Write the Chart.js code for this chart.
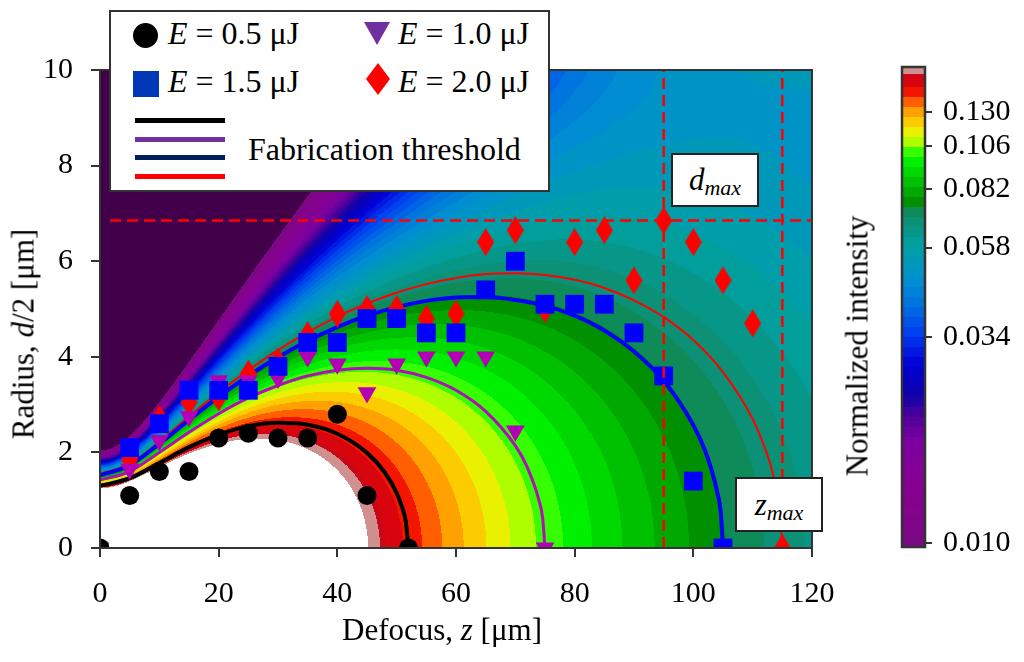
<!DOCTYPE html>
<html>
<head>
<meta charset="utf-8">
<script src="https://cdn.jsdelivr.net/npm/chart.js@4.4.1/dist/chart.umd.min.js"></script>
<style>
  html, body { margin: 0; padding: 0; background: #fff; }
  #wrap { position: relative; width: 1024px; height: 662px; overflow: hidden;
          font-family: "Liberation Serif", "Times New Roman", serif; color: #000; }
  #main { position: absolute; left: 0; top: 0; }
  #cbar { position: absolute; left: 840px; top: 0; }
  .txt { position: absolute; white-space: nowrap; font-size: 31px; line-height: 31px; }
  .leg { font-size: 32px; line-height: 32px; }
  .box { position: absolute; background: #fff; border: 2px solid #333; box-sizing: border-box; }
  .mk { position: absolute; }
  .ln { position: absolute; left: 135px; width: 90px; height: 5px; }
  .ann { position: absolute; background: #fff; border: 2px solid #222; box-sizing: border-box;
         display: flex; align-items: center; justify-content: center; font-size: 31px; }
  .ann sub { font-size: 22px; font-style: italic; vertical-align: -5px; line-height: 0; }
  .rot { position: absolute; white-space: nowrap; font-size: 31px; line-height: 31px;
         transform: translate(-50%, -50%) rotate(-90deg); }
</style>
</head>
<body>
<div id="wrap">
  <canvas id="main" width="1024" height="662"></canvas>
  <canvas id="cbar" width="184" height="662"></canvas>

  <!-- legend -->
  <div class="box" style="left:109px;top:10px;width:441px;height:182px;"></div>
  <div class="mk" style="left:133px;top:23px;width:25px;height:25px;border-radius:50%;background:#000;"></div>
  <div class="txt leg" style="left:168px;top:17px;"><i>E</i> = 0.5 μJ</div>
  <div class="mk" style="left:364px;top:22px;width:26px;height:23px;background:#7030a0;clip-path:polygon(0 0,100% 0,50% 100%);"></div>
  <div class="txt leg" style="left:398px;top:17px;"><i>E</i> = 1.0 μJ</div>
  <div class="mk" style="left:133px;top:71px;width:26px;height:26px;background:#0038b8;"></div>
  <div class="txt leg" style="left:168px;top:65px;"><i>E</i> = 1.5 μJ</div>
  <div class="mk" style="left:366px;top:63px;width:24px;height:32px;background:#ff0000;clip-path:polygon(50% 0,100% 50%,50% 100%,0 50%);"></div>
  <div class="txt leg" style="left:398px;top:65px;"><i>E</i> = 2.0 μJ</div>
  <div class="ln" style="top:118px;background:#000;"></div>
  <div class="ln" style="top:137px;background:#7030a0;"></div>
  <div class="ln" style="top:155px;background:#002060;"></div>
  <div class="ln" style="top:174px;background:#ff0000;"></div>
  <div class="txt leg" style="left:248px;top:133px;">Fabrication threshold</div>

  <!-- annotations -->
  <div class="ann" style="left:671px;top:153px;width:88px;height:54px;"><span><i>d</i><sub>max</sub></span></div>
  <div class="ann" style="left:735px;top:477px;width:88px;height:55px;"><span><i>z</i><sub>max</sub></span></div>

  <!-- axis titles -->
  <div class="txt" style="left:442px;top:614px;transform:translateX(-50%);">Defocus, <i>z</i> [μm]</div>
  <div class="rot" style="left:23px;top:334px;">Radius, <i>d</i>/2 [μm]</div>
  <div class="rot" style="left:857px;top:346px;">Normalized intensity</div>
</div>

<script>
// measured radii d/2 [um] vs defocus z [um]
const zE05 = [0, 5, 10, 15, 20, 25, 30, 35, 40, 45, 52];
const rE05 = [0, 1.1, 1.6, 1.6, 2.3, 2.4, 2.3, 2.3, 2.8, 1.1, 0];
const zE10 = [0, 5, 10, 15, 20, 25, 30, 35, 40, 45, 50, 55, 60, 65, 70, 75];
const rE10 = [0, 1.65, 2.25, 2.75, 3.5, 3.5, 3.55, 4.0, 3.85, 3.25, 3.85, 4.0, 4.0, 4.0, 2.45, 0];
const zE15 = [5, 10, 15, 20, 25, 30, 35, 40, 45, 50, 55, 60, 65, 70, 75, 80, 85, 90, 95, 100, 105];
const rE15 = [2.1, 2.6, 3.3, 3.3, 3.3, 3.8, 4.3, 4.3, 4.8, 4.8, 4.5, 4.5, 5.4, 6.0, 5.1, 5.1, 5.1, 4.5, 3.6, 1.4, 0];
const zE20 = [5, 10, 15, 20, 25, 30, 35, 40, 45, 50, 55, 60, 65, 70, 75, 80, 85, 90, 95, 100, 105, 110, 115];
const rE20 = [1.85, 2.7, 3.05, 3.15, 3.65, 3.9, 4.45, 4.9, 5.0, 5.0, 4.8, 4.9, 6.4, 6.65, 5.0, 6.4, 6.65, 5.6, 6.85, 6.4, 5.6, 4.7, 0];

// fabrication threshold curves
const thr05Z = [0, 5, 10, 15, 20, 25, 30, 35, 40, 45, 48, 50, 51, 51.5, 52];
const thr05R = [1.30, 1.46, 1.78, 2.11, 2.37, 2.55, 2.62, 2.58, 2.39, 1.99, 1.58, 1.15, 0.82, 0.58, 0];
const thr10Z = [0, 5, 10, 15, 20, 25, 30, 35, 40, 45, 50, 55, 60, 65, 70, 72, 74, 74.6, 75];
const thr10R = [1.42, 1.60, 2.00, 2.42, 2.81, 3.14, 3.40, 3.60, 3.72, 3.76, 3.72, 3.57, 3.30, 2.86, 2.14, 1.69, 0.99, 0.63, 0];
const thr15Z = [0, 5, 10, 15, 20, 25, 30, 35, 40, 45, 50, 55, 60, 65, 70, 75, 80, 85, 90, 95, 100, 102, 103, 104, 104.6, 105];
const thr15R = [1.52, 1.73, 2.18, 2.68, 3.16, 3.60, 3.99, 4.33, 4.62, 4.86, 5.04, 5.17, 5.24, 5.25, 5.19, 5.07, 4.86, 4.55, 4.11, 3.50, 2.57, 2.03, 1.66, 1.18, 0.77, 0];
const thr20Z = [0, 5, 10, 15, 20, 25, 30, 35, 40, 45, 50, 55, 60, 65, 70, 75, 80, 85, 90, 95, 100, 105, 110, 112, 113, 114, 114.6, 115];
const thr20R = [1.55, 1.76, 2.22, 2.75, 3.25, 3.72, 4.14, 4.51, 4.84, 5.11, 5.34, 5.52, 5.65, 5.73, 5.75, 5.71, 5.61, 5.44, 5.18, 4.83, 4.35, 3.68, 2.70, 2.11, 1.74, 1.24, 0.80, 0];

// d_max / z_max guide lines
const dMax = 6.85;
const dLineStart = 1.7;
const zMaxMarks = [95, 115];

// ticks
const zTicks = [0, 20, 40, 60, 80, 100, 120];
const rTicks = [0, 2, 4, 6, 8, 10];
const cbTicks = [0.010, 0.034, 0.058, 0.082, 0.106, 0.130];

// beam intensity background (gaussian beam)
const beamWaist = 0.953;
const rayleigh = 8.2;
const peakLevel = 0.952;
const farBoost = 0.35, farRadius = 10, farZ0 = 40, farZ1 = 80;   // flatter far-field wings
const cbMin = 0.00975, cbMax = 0.170, pinkLevel = 0.163;

// colour scale of the colour bar
const cmapLevels = [0.0100, 0.0140, 0.0185, 0.0215, 0.0240, 0.0290, 0.0350, 0.0410, 0.0480, 0.0590, 0.0710, 0.0760, 0.0880, 0.1000, 0.1080, 0.1160, 0.1240, 0.1330, 0.1400, 0.1490, 0.1600];
const cmapColors = ['#7a0882', '#860090', '#7a00a0', '#48009a', '#1000a8', '#0000d8', '#0040f0', '#0070e0', '#0090d0', '#00a0a0', '#108a66', '#009000', '#00cc00', '#00ff00', '#a8ff00', '#eef000', '#ffc400', '#ff9000', '#ff4c00', '#f00000', '#c80818'];
const darkColor = '#42004a';
const pinkColor = '#d09090';

function hexRgb(h) {
  return [parseInt(h.slice(1, 3), 16), parseInt(h.slice(3, 5), 16), parseInt(h.slice(5, 7), 16)];
}
const cmapRgb = cmapColors.map(hexRgb);
const cmapLog = cmapLevels.map(Math.log);
const nBands = 48;

function bandColor(v) {
  if (v >= cbMax) return [255, 255, 255];
  if (v >= pinkLevel) return hexRgb(pinkColor);
  if (v < cbMin) return hexRgb(darkColor);
  const span = Math.log(cbMax / cbMin);
  const t = Math.log(v / cbMin) / span;
  const lv = Math.log(cbMin) + (Math.floor(t * nBands) + 0.5) / nBands * span;
  if (lv <= cmapLog[0]) return cmapRgb[0];
  for (let i = 1; i < cmapLog.length; i++) {
    if (lv <= cmapLog[i]) {
      const f = (lv - cmapLog[i - 1]) / (cmapLog[i] - cmapLog[i - 1]);
      const a = cmapRgb[i - 1], b = cmapRgb[i];
      return [a[0] + (b[0] - a[0]) * f, a[1] + (b[1] - a[1]) * f, a[2] + (b[2] - a[2]) * f];
    }
  }
  return cmapRgb[cmapRgb.length - 1];
}

function intensity(z, r) {
  const u = 1 + (z / rayleigh) * (z / rayleigh);
  const s2 = r * r / (beamWaist * beamWaist * u);
  let v = peakLevel / Math.sqrt(u) * Math.exp(-s2);
  let t = Math.min(1, Math.max(0, (z - farZ0) / (farZ1 - farZ0)));
  t = t * t * (3 - 2 * t);
  v *= 1 + farBoost * t * Math.pow(r / farRadius, 6);
  return v;
}

const pts = (xs, ys) => xs.map((x, i) => ({ x: x, y: ys[i] }));

function diamond(w, h, color) {
  const c = document.createElement('canvas');
  c.width = w; c.height = h;
  const g = c.getContext('2d');
  g.fillStyle = color;
  g.beginPath();
  g.moveTo(w / 2, 0); g.lineTo(w, h / 2); g.lineTo(w / 2, h); g.lineTo(0, h / 2);
  g.closePath(); g.fill();
  return c;
}

const heatmap = {
  id: 'heatmap',
  beforeDraw(chart) {
    const { ctx, chartArea: a, scales: { x, y } } = chart;
    const w = Math.round(a.right - a.left), h = Math.round(a.bottom - a.top);
    const off = document.createElement('canvas');
    off.width = w; off.height = h;
    const octx = off.getContext('2d');
    const img = octx.createImageData(w, h);
    for (let j = 0; j < h; j++) {
      const r = y.getValueForPixel(a.top + j + 0.5);
      for (let i = 0; i < w; i++) {
        const z = x.getValueForPixel(a.left + i + 0.5);
        const c = bandColor(intensity(z, r));
        const k = (j * w + i) * 4;
        img.data[k] = c[0]; img.data[k + 1] = c[1]; img.data[k + 2] = c[2]; img.data[k + 3] = 255;
      }
    }
    octx.putImageData(img, 0, 0);
    ctx.drawImage(off, a.left, a.top);
  },
  afterDatasetsDraw(chart) {
    const { ctx, chartArea: a } = chart;
    ctx.save();
    ctx.strokeStyle = '#333';
    ctx.lineWidth = 2;
    ctx.strokeRect(a.left, a.top, a.right - a.left, a.bottom - a.top);
    ctx.restore();
  }
};

const tickFont = { family: 'Liberation Serif', size: 30 };
const thrLine = (zs, rs, color, width) => ({
  data: pts(zs, rs), showLine: true, pointRadius: 0, borderColor: color, borderWidth: width,
  cubicInterpolationMode: 'monotone', clip: 0, order: 5
});
const guide = (data) => ({
  data: data, showLine: true, pointRadius: 0, borderColor: '#ff0000', borderWidth: 2.5,
  borderDash: [11, 6], clip: 0, order: 0
});

new Chart(document.getElementById('main'), {
  type: 'scatter',
  data: {
    datasets: [
      guide([{ x: dLineStart, y: dMax }, { x: 120, y: dMax }]),
      guide([{ x: zMaxMarks[0], y: 0 }, { x: zMaxMarks[0], y: 10 }]),
      guide([{ x: zMaxMarks[1], y: 0 }, { x: zMaxMarks[1], y: 10 }]),
      { label: 'E = 0.5 μJ', data: pts(zE05, rE05), pointStyle: 'circle', pointRadius: 9.5,
        backgroundColor: '#000', borderWidth: 0, clip: 0, order: 1 },
      { label: 'E = 1.5 μJ', data: pts(zE15, rE15), pointStyle: 'rect', pointRadius: 13.3,
        backgroundColor: '#0000ff', borderWidth: 0, clip: 0, order: 2 },
      { label: 'E = 1.0 μJ', data: pts(zE10, rE10), pointStyle: 'triangle', rotation: 180, pointRadius: 10.8,
        backgroundColor: '#b400b4', borderWidth: 0, clip: 0, order: 3 },
      { label: 'E = 2.0 μJ', data: pts(zE20, rE20), pointStyle: diamond(17, 28, '#ff0000'),
        backgroundColor: '#ff0000', borderWidth: 0, clip: 0, order: 4 },
      thrLine(thr05Z, thr05R, '#000000', 4),
      thrLine(thr10Z, thr10R, '#b010b4', 3),
      thrLine(thr15Z, thr15R, '#0000ff', 4),
      thrLine(thr20Z, thr20R, '#ff0000', 2)
    ]
  },
  options: {
    responsive: false,
    animation: false,
    events: [],
    layout: { padding: { left: 0, top: 70, right: 212, bottom: 0 } },
    plugins: { legend: { display: false }, tooltip: { enabled: false } },
    scales: {
      x: {
        type: 'linear', min: 0, max: 120,
        afterBuildTicks: s => { s.ticks = zTicks.map(v => ({ value: v })); },
        afterFit: s => { s.height = 114; },
        ticks: { font: tickFont, color: '#000', padding: 19, maxRotation: 0 },
        grid: { drawOnChartArea: false, tickLength: 9, color: '#333', lineWidth: 2 },
        border: { color: '#333', width: 2 }
      },
      y: {
        type: 'linear', min: 0, max: 10,
        afterBuildTicks: s => { s.ticks = rTicks.map(v => ({ value: v })); },
        afterFit: s => { s.width = 100; },
        ticks: { font: tickFont, color: '#000', padding: 18 },
        grid: { drawOnChartArea: false, tickLength: 9, color: '#333', lineWidth: 2 },
        border: { color: '#333', width: 2 }
      }
    }
  },
  plugins: [heatmap]
});

// colour bar
const colorBar = {
  id: 'colorBar',
  beforeDatasetsDraw(chart) {
    const { ctx, chartArea: a, scales: { y } } = chart;
    for (let py = Math.floor(a.top); py < a.bottom; py++) {
      const c = bandColor(y.getValueForPixel(py + 0.5));
      ctx.fillStyle = 'rgb(' + c.map(Math.round).join(',') + ')';
      ctx.fillRect(a.left, py, a.right - a.left, 1);
    }
    ctx.strokeStyle = '#333';
    ctx.lineWidth = 2.5;
    ctx.strokeRect(a.left, a.top, a.right - a.left, a.bottom - a.top);
  }
};

new Chart(document.getElementById('cbar'), {
  type: 'scatter',
  data: { datasets: [{ data: [] }] },
  options: {
    responsive: false,
    animation: false,
    events: [],
    layout: { padding: { left: 62, top: 67, right: 0, bottom: 115 } },
    plugins: { legend: { display: false }, tooltip: { enabled: false } },
    scales: {
      x: { display: false, min: 0, max: 1 },
      y: {
        type: 'logarithmic', position: 'right', min: cbMin, max: cbMax,
        afterBuildTicks: s => { s.ticks = cbTicks.map(v => ({ value: v })); },
        afterFit: s => { s.width = 99; },
        ticks: { font: tickFont, color: '#000', padding: 11, callback: v => Number(v).toFixed(3) },
        grid: { drawOnChartArea: false, tickLength: 7, color: '#333', lineWidth: 2 },
        border: { display: false }
      }
    }
  },
  plugins: [colorBar]
});
</script>
</body>
</html>
